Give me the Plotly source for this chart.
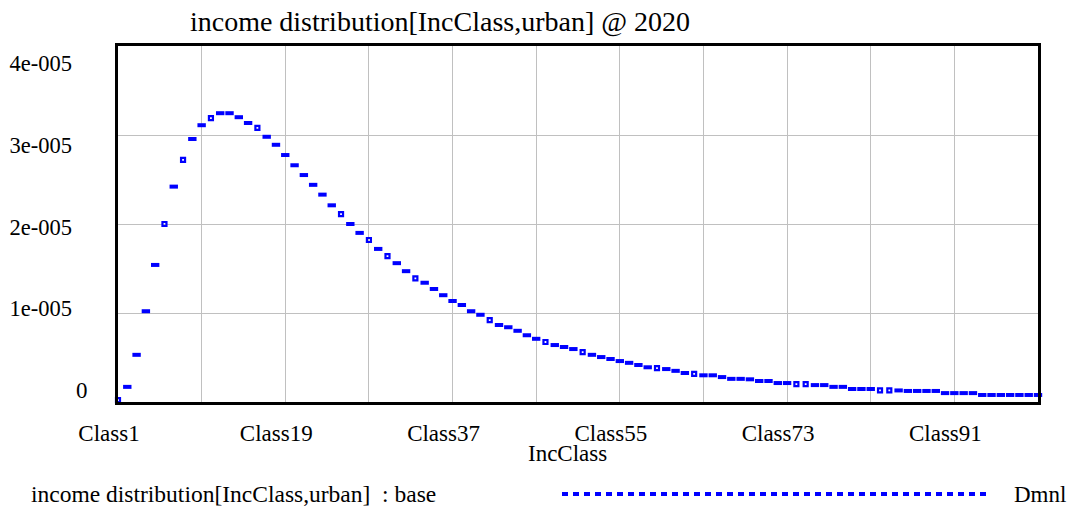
import plotly.graph_objects as go

# ---- data ----
classes = [f"Class{i}" for i in range(1, 101)]
values_e5 = [
    0.02, 0.17, 0.53, 1.02, 1.54, 2.00, 2.42, 2.72, 2.955, 3.11,
    3.19, 3.245, 3.245, 3.20, 3.135, 3.08, 2.98, 2.89, 2.775, 2.66,
    2.55, 2.44, 2.33, 2.21, 2.11, 2.00, 1.90, 1.82, 1.72, 1.64,
    1.56, 1.47, 1.39, 1.34, 1.27, 1.20, 1.135, 1.09, 1.02, 0.98,
    0.92, 0.865, 0.84, 0.80, 0.75, 0.71, 0.674, 0.64, 0.618, 0.595,
    0.56, 0.53, 0.505, 0.483, 0.46, 0.44, 0.416, 0.39, 0.38, 0.37,
    0.35, 0.326, 0.315, 0.30, 0.30, 0.28, 0.26, 0.26, 0.255, 0.236,
    0.236, 0.213, 0.213, 0.20, 0.20, 0.19, 0.19, 0.17, 0.17, 0.146,
    0.146, 0.146, 0.13, 0.13, 0.13, 0.124, 0.124, 0.124, 0.124, 0.10,
    0.10, 0.10, 0.10, 0.079, 0.079, 0.079, 0.079, 0.079, 0.079, 0.079,
]
values = [v * 1e-5 for v in values_e5]
# points drawn with a hollow square marker (Vensim style)
square_classes = [1, 6, 8, 11, 16, 25, 28, 30, 33, 41, 47, 51, 59, 63, 74, 75, 83, 84]

x_tick_classes = classes[::9]
x_tick_labels = [c if i % 2 == 0 else "" for i, c in enumerate(x_tick_classes)]
y_ticks = [0, 1e-5, 2e-5, 3e-5, 4e-5]
y_labels = ["0", "1e-005", "2e-005", "3e-005", "4e-005"]

title = "income distribution[IncClass,urban] @ 2020"
x_title = "IncClass"
legend_label = "income distribution[IncClass,urban]\u00a0 : base"
unit = "Dmnl"

BLUE = "#0000ff"
FONT = "Liberation Serif, Times New Roman, serif"

# page has an 8px body margin: figure is drawn 8px smaller and everything
# is positioned relative to that offset
OFF = 8
W, H = 1078 - OFF, 515 - OFF

dash_x = [c for i, c in enumerate(classes) if (i + 1) not in square_classes]
dash_y = [v for i, v in enumerate(values) if (i + 1) not in square_classes]
sq_x = [classes[i - 1] for i in square_classes]
sq_y = [values[i - 1] for i in square_classes]

fig = go.Figure()
fig.add_trace(go.Scatter(
    x=dash_x, y=dash_y, mode="markers", cliponaxis=False,
    marker=dict(symbol="line-ew", size=6, line=dict(width=4, color=BLUE)),
    hoverinfo="skip", showlegend=False,
))
fig.add_trace(go.Scatter(
    x=sq_x, y=sq_y, mode="markers", cliponaxis=False,
    marker=dict(symbol="square-open", size=4, color=BLUE, line=dict(width=2.2, color=BLUE)),
    hoverinfo="skip", showlegend=False,
))
# helper trace bound to the label axis
fig.add_trace(go.Scatter(x=[classes[0]], y=[None], yaxis="y2", mode="markers",
                         showlegend=False, hoverinfo="skip"))

# label axis range: labels are spread evenly between the 4e-005 and 0 positions
lo, hi = -0.143e-5, 4.212e-5

fig.update_layout(
    width=W, height=H,
    margin=dict(l=118 - OFF, r=40, t=46 - OFF, b=113, autoexpand=False),
    paper_bgcolor="white", plot_bgcolor="white",
    font=dict(family=FONT, size=23, color="black"),
    title=dict(text=title, x=(440 - OFF) / W, xref="container", xanchor="center",
               y=1 - (21 - OFF) / H, yref="container", yanchor="middle",
               font=dict(family=FONT, size=28, color="black")),
    xaxis=dict(
        type="category", categoryorder="array", categoryarray=classes,
        range=[0, len(classes) - 1], automargin=False,
        tickmode="array", tickvals=x_tick_classes, ticktext=x_tick_labels,
        ticks="", showgrid=True, gridcolor="#c0c0c0", gridwidth=1.3,
        showline=True, mirror=True, linewidth=3, linecolor="black",
        zeroline=False, ticklabelshift=-9, ticklabelstandoff=8,
        tickfont=dict(family=FONT, size=23, color="black"),
    ),
    yaxis=dict(
        range=[0, 4e-5], tickmode="array", tickvals=y_ticks, showticklabels=False,
        automargin=False,
        ticks="", showgrid=True, gridcolor="#c0c0c0", gridwidth=1.3,
        showline=True, mirror=True, linewidth=3, linecolor="black", zeroline=False,
    ),
    yaxis2=dict(
        overlaying="y", side="left", range=[lo, hi], automargin=False,
        tickmode="array", tickvals=y_ticks[1:], ticktext=y_labels[1:],
        showgrid=False, zeroline=False, showline=False, ticks="",
        ticklabelstandoff=45,
        tickfont=dict(family=FONT, size=22.5, color="black"),
    ),
)

annotations = [
    dict(text=y_labels[0], xref="paper", x=(90 - 118) / 920, xanchor="right",
         yref="y2", y=y_ticks[0], yanchor="middle", showarrow=False,
         font=dict(family=FONT, size=23, color="black")),
    dict(text=x_title, xref="paper", x=(567 - 118) / 920, xanchor="center",
         yref="paper", y=(402 - 453) / 356, yanchor="middle", showarrow=False,
         font=dict(family=FONT, size=23, color="black")),
    dict(text=legend_label, xref="paper", x=(29 - 118) / 920, xanchor="left",
         yref="paper", y=(402 - 494) / 356, yanchor="middle", showarrow=False,
         font=dict(family=FONT, size=23.5, color="black")),
    dict(text=unit, xref="paper", x=(1068 - 118) / 920, xanchor="right",
         yref="paper", y=(402 - 494) / 356, yanchor="middle", showarrow=False,
         font=dict(family=FONT, size=23, color="black")),
]
fig.update_layout(annotations=annotations)

fig.add_shape(type="line", xref="paper", yref="paper",
              x0=(562 - 118) / 920, x1=(986 - 118) / 920,
              y0=(402 - 494) / 356, y1=(402 - 494) / 356,
              line=dict(color=BLUE, width=4, dash="6px,5px"))

fig.write_html("out.html")
